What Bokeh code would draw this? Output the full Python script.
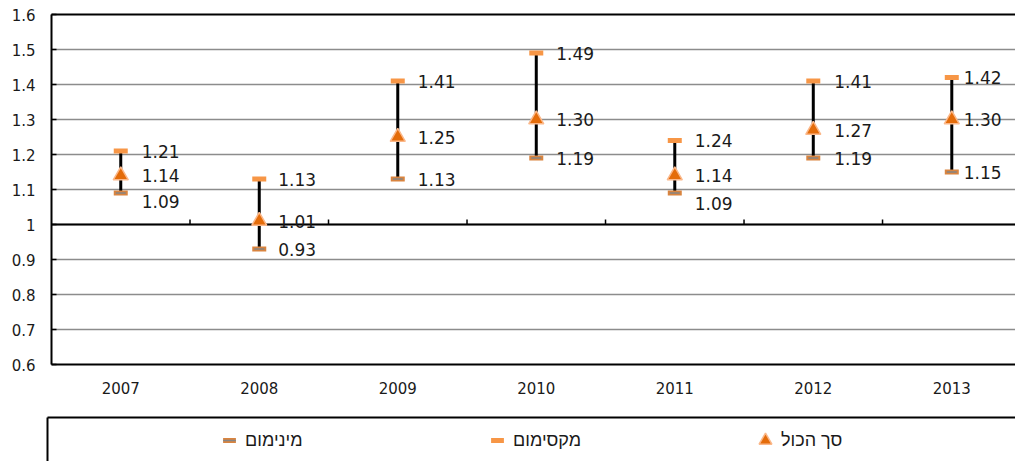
from bokeh.plotting import figure
from bokeh.models import (ColumnDataSource, FixedTicker, LinearAxis, Span, Legend,
                          LegendItem, Range1d)
from bokeh.layouts import column, row
from bokeh.core.properties import value
from bokeh.embed import file_html
from bokeh.resources import INLINE

# ---- data ----
years = ["2007", "2008", "2009", "2010", "2011", "2012", "2013"]
minimum = [1.09, 0.93, 1.13, 1.19, 1.09, 1.19, 1.15]
maximum = [1.21, 1.13, 1.41, 1.49, 1.24, 1.41, 1.42]
total = [1.14, 1.01, 1.25, 1.30, 1.14, 1.27, 1.30]
y_tick_labels = ["0.6", "0.7", "0.8", "0.9", "1", "1.1", "1.2", "1.3", "1.4", "1.5", "1.6"]
series_names = ["מינימום", "מקסימום", "סך הכול"]

# ---- label placement tweaks (pixels) ----
label_dx = [21, 19, 20, 20, 20, 21, 12]
min_label_dy = [8, 0, 0, 0, 10, 0, 0]

# ---- styles ----
MAX_COLOR = "#F79646"
MIN_EDGE = "#D9843F"
MIN_CORE = "#858585"
TRI_FILL = "#E46C0A"
TRI_EDGE = "#FBB88A"
GRID = "#8c8c8c"
TEXT = "#1a1a1a"
NUM_FONT = "DejaVu Sans"
BASELINE = 1.0
X_END = 6.96

y_ticks = [float(s) for s in y_tick_labels]
xs = [i + 0.5 for i in range(len(years))]

source = ColumnDataSource(dict(
    x=xs, lo=minimum, hi=maximum, avg=total,
    lo_txt=[f"{v:.2f}" for v in minimum],
    hi_txt=[f"{v:.2f}" for v in maximum],
    avg_txt=[f"{v:.2f}" for v in total],
    dx=label_dx, dy=min_label_dy,
))

# ---- main chart ----
p = figure(width=1015, height=400, output_backend="svg", toolbar_location=None, tools="",
           x_range=Range1d(0, X_END), y_range=Range1d(y_ticks[0], y_ticks[-1]),
           min_border_left=51, min_border_right=0, min_border_top=14, min_border_bottom=36,
           background_fill_color="white", border_fill_color="white")
p.outline_line_color = None

p.ygrid.ticker = FixedTicker(ticks=y_ticks)
p.ygrid.grid_line_color = GRID
p.ygrid.grid_line_width = 1.5
p.xgrid.visible = False

yax = p.yaxis[0]
yax.ticker = FixedTicker(ticks=y_ticks)
yax.major_label_overrides = dict(zip(y_ticks, y_tick_labels))
yax.axis_line_color = "black"
yax.axis_line_width = 2
yax.major_tick_in = 5
yax.major_tick_out = 0
yax.major_tick_line_color = "black"
yax.major_tick_line_width = 1.5
yax.minor_tick_line_color = None
yax.major_label_standoff = 16
yax.major_label_text_font = NUM_FONT
yax.major_label_text_font_size = "15px"
yax.major_label_text_color = TEXT

xax = p.xaxis[0]
xax.ticker = FixedTicker(ticks=xs)
xax.major_label_overrides = dict(zip(xs, years))
xax.axis_line_color = "black"
xax.axis_line_width = 2
xax.major_tick_line_color = None
xax.minor_tick_line_color = None
xax.major_label_standoff = 11
xax.major_label_text_font = NUM_FONT
xax.major_label_text_font_size = "15px"
xax.major_label_text_color = TEXT

top = LinearAxis(ticker=FixedTicker(ticks=[]), axis_line_color="black", axis_line_width=2,
                 major_tick_line_color=None, minor_tick_line_color=None,
                 major_tick_out=0, major_tick_in=0, major_label_standoff=0,
                 major_label_text_font_size="0px")
p.add_layout(top, "above")

# horizontal category axis crossing at 1.0
p.add_layout(Span(location=BASELINE, dimension="width", line_color="black",
                  line_width=2, level="underlay"))
bounds = list(range(1, len(years)))
p.segment(x0=bounds, y0=[BASELINE] * len(bounds), x1=bounds,
          y1=[BASELINE + 0.014] * len(bounds), line_color="black", line_width=1.5)

# high-low bars
p.segment(x0="x", y0="lo", x1="x", y1="hi", source=source, line_color="black", line_width=3)


def draw_markers(fig):
    r_lo_edge = fig.scatter("x", "lo", source=source, marker="dash", size=14,
                            line_color=MIN_EDGE, line_width=5)
    r_lo_core = fig.scatter("x", "lo", source=source, marker="dash", size=10,
                            line_color=MIN_CORE, line_width=1.5)
    r_hi = fig.scatter("x", "hi", source=source, marker="dash", size=14,
                       line_color=MAX_COLOR, line_width=5)
    r_avg = fig.scatter("x", "avg", source=source, marker="triangle", size=15,
                        fill_color=TRI_FILL, line_color=TRI_EDGE, line_width=1.5)
    return r_lo_edge, r_lo_core, r_hi, r_avg


draw_markers(p)

# value labels
text_kw = dict(source=source, x_offset="dx", text_font=value(NUM_FONT), text_font_size="17px",
               text_color=TEXT, text_baseline="middle", text_align="left")
p.text(x="x", y="hi", text="hi_txt", **text_kw)
p.text(x="x", y="avg", text="avg_txt", **text_kw)
p.text(x="x", y="lo", text="lo_txt", y_offset="dy", **text_kw)

# ---- legend strip ----
lf = figure(width=1015, height=61, output_backend="svg", toolbar_location=None, tools="",
            x_range=Range1d(0, X_END), y_range=Range1d(0, 0.5),
            x_axis_type=None, y_axis_type=None,
            min_border_left=47, min_border_right=0, min_border_top=17, min_border_bottom=0,
            background_fill_color="white", border_fill_color="white")
lf.outline_line_color = None
for side in ("above", "left"):
    lf.add_layout(LinearAxis(ticker=FixedTicker(ticks=[]), axis_line_color="black",
                             axis_line_width=2, major_tick_line_color=None,
                             minor_tick_line_color=None, major_tick_out=0, major_tick_in=0,
                             major_label_standoff=0, major_label_text_font_size="0px"), side)

l_lo_edge, l_lo_core, l_hi, l_avg = draw_markers(lf)

legend = Legend(
    items=[
        LegendItem(label=series_names[0], renderers=[l_lo_edge, l_lo_core]),
        LegendItem(label=series_names[1], renderers=[l_hi]),
        LegendItem(label=series_names[2], renderers=[l_avg]),
    ],
    orientation="horizontal", location=(166, 5),
    border_line_color=None, background_fill_alpha=0,
    padding=0, margin=0, spacing=0,
    glyph_width=32, glyph_height=32, label_standoff=0, label_width=236,
    label_text_font="Liberation Sans", label_text_font_size="18px",
    label_text_color=TEXT,
)
lf.add_layout(legend)

layout = column(row(p, spacing=0), row(lf, spacing=0), spacing=0)
open("out.html", "w").write(file_html(layout, INLINE))
